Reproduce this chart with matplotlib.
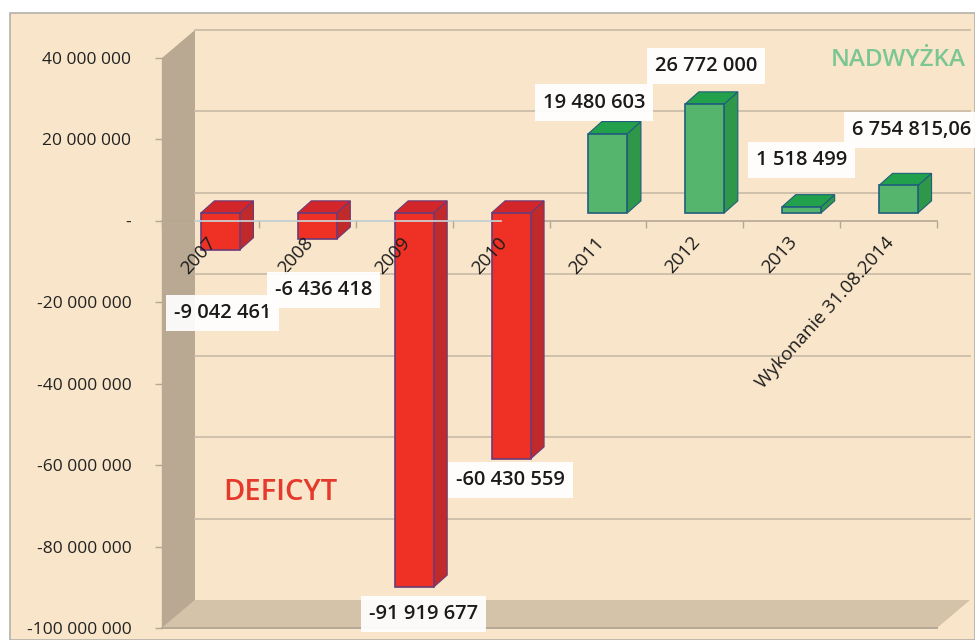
import matplotlib
matplotlib.use('Agg')
import matplotlib.pyplot as plt
from matplotlib.patches import Polygon, Rectangle
from matplotlib.transforms import ScaledTranslation

# dane
categories = ['2007', '2008', '2009', '2010', '2011', '2012', '2013', 'Wykonanie 31.08.2014']
values = [-9042461, -6436418, -91919677, -60430559, 19480603, 26772000, 1518499, 6754815.06]
value_labels = ['-9 042 461', '-6 436 418', '-91 919 677', '-60 430 559',
                '19 480 603', '26 772 000', '1 518 499', '6 754 815,06']
y_ticks = [40000000, 20000000, 0, -20000000, -40000000, -60000000, -80000000, -100000000]
y_labels = ['40 000 000', '20 000 000', '-', '-20 000 000', '-40 000 000',
            '-60 000 000', '-80 000 000', '-100 000 000']

# przesuniecia etykiet (piksele)
label_offsets = [(12, -55), (16, -43), (19, -19), (9, -13), (-4, 39), (11, 46), (10, 55), (23, 63)]

FONT = 'Open Sans'
BG = '#f9e6ca'

fig = plt.figure(figsize=(9.75, 6.4), dpi=100, facecolor='white')
fig.patches.append(Rectangle((10 / 975, 0), 965 / 975, 627 / 640, transform=fig.transFigure,
                             facecolor=BG, edgecolor='#b4b0aa', linewidth=1.2, zorder=-1))

ax = fig.add_axes([162 / 975, 12 / 640, 775 / 975, 570 / 640])
ax.patch.set_visible(False)
ax.set_xlim(-0.5, 7.5)
ax.set_ylim(-100000000, 40000000)

# przeliczenie pikseli na jednostki osi
px_x = 8 / 775
px_y = 140000000 / 570
wall_dx = 33 * px_x
wall_dy = 28 * px_y
bar_dx = 10 * px_x
bar_dy = 8 * px_y
bar_w = 39 * px_x
side_dx = 13.5 * px_x
side_dy = 12 * px_y

x0, x1 = ax.get_xlim()
y0, y1 = ax.get_ylim()

# sciana boczna i podloga
ax.add_patch(Polygon([(x0, y1), (x0 + wall_dx, y1 + wall_dy), (x0 + wall_dx, y0 + wall_dy), (x0, y0)],
                     closed=True, facecolor='#b9a992', edgecolor='none', clip_on=False, zorder=0.5))
ax.add_patch(Polygon([(x0, y0), (x0 + wall_dx, y0 + wall_dy), (x1 + wall_dx, y0 + wall_dy), (x1, y0)],
                     closed=True, facecolor='#d4c3a9', edgecolor='none', clip_on=False, zorder=0.4))

# linie siatki na tylnej scianie
for t in y_ticks[:-1]:
    ax.plot([x0 + wall_dx, x1 + wall_dx], [t + wall_dy, t + wall_dy], color='#cbbea9', lw=1.3,
            clip_on=False, zorder=0.6)

# slupki 3d
for i, v in enumerate(values):
    red = v < 0
    front = '#ee3124' if red else '#55b56c'
    side = '#c12a2b' if red else '#2e9749'
    top = '#d2262a' if red else '#22a04b'
    edge = '#6b3a78' if red else '#1f5f7c'
    left = i + bar_dx - bar_w / 2
    right = left + bar_w
    base = bar_dy
    end = v + bar_dy
    high = max(base, end)
    low = min(base, end)
    ax.add_patch(Polygon([(right, low), (right + side_dx, low + side_dy),
                          (right + side_dx, high + side_dy), (right, high)],
                         closed=True, facecolor=side, edgecolor=edge, lw=0.8, zorder=1.2, clip_on=False))
    ax.add_patch(Polygon([(left, high), (left + side_dx, high + side_dy),
                          (right + side_dx, high + side_dy), (right, high)],
                         closed=True, facecolor=top, edgecolor=edge, lw=0.8, zorder=1.2, clip_on=False))
    ax.bar(i + bar_dx, v, width=bar_w, bottom=base, color=front, edgecolor=edge, linewidth=1.2,
           zorder=1.3, clip_on=False)

# os zero
ax.plot([x0 + wall_dx, 3.0], [0, 0], color='#c9d8dc', lw=1.2, zorder=1.5)
ax.spines['bottom'].set_position(('data', 0))
ax.spines['bottom'].set_color('#b5a894')
ax.spines['bottom'].set_linewidth(1.2)
ax.spines['bottom'].set_zorder(1.1)
for s in ['top', 'right']:
    ax.spines[s].set_visible(False)
ax.spines['left'].set_color('#b9a992')
ax.spines['left'].set_linewidth(1)

ax.set_xticks(range(len(categories)))
ax.set_xticklabels(categories, rotation=48, ha='right', rotation_mode='anchor',
                   fontsize=13.5, family=FONT, weight='medium', color='#1c1c1c')
ax.tick_params(axis='x', which='major', length=0, pad=9)
ax.set_xticks([i - 0.5 for i in range(len(categories) + 1)], minor=True)
ax.tick_params(axis='x', which='minor', length=5, width=1, color='#b5a894')
shift = ScaledTranslation(-4 / 100, 0, fig.dpi_scale_trans)
for lab in ax.get_xticklabels():
    lab.set_transform(lab.get_transform() + shift)

ax.set_yticks(y_ticks)
ax.set_yticklabels(y_labels, fontsize=12.5, family=FONT, weight='medium', color='#222222')
ax.tick_params(axis='y', length=5, width=1, color='#b5a894', pad=17)

# linia na -100 000 000
ax.plot([x0, x1], [y0, y0], color='#b5a894', lw=1.4, clip_on=False, zorder=1)

# etykiety wartosci
for i, v in enumerate(values):
    ox, oy = label_offsets[i]
    ax.annotate(value_labels[i], xy=(i, v), xytext=(ox, oy), textcoords='offset pixels',
                ha='center', va='center', fontsize=14.5, family=FONT, weight='semibold', color='#1a1a1a',
                bbox=dict(boxstyle='square,pad=0.4', facecolor='white', edgecolor='none', alpha=0.93),
                annotation_clip=False, zorder=5)

fig.text(280 / 975, 1 - 492 / 640, 'DEFICYT', color='#e5392c', fontsize=21, family=FONT,
         weight='semibold', ha='center', va='center')
fig.text(898.5 / 975, 1 - 60 / 640, 'NADWYŻKA', color='#7cc694', fontsize=17.5, family=FONT,
         weight='semibold', ha='center', va='center')

fig.savefig('out.png', dpi=100)
